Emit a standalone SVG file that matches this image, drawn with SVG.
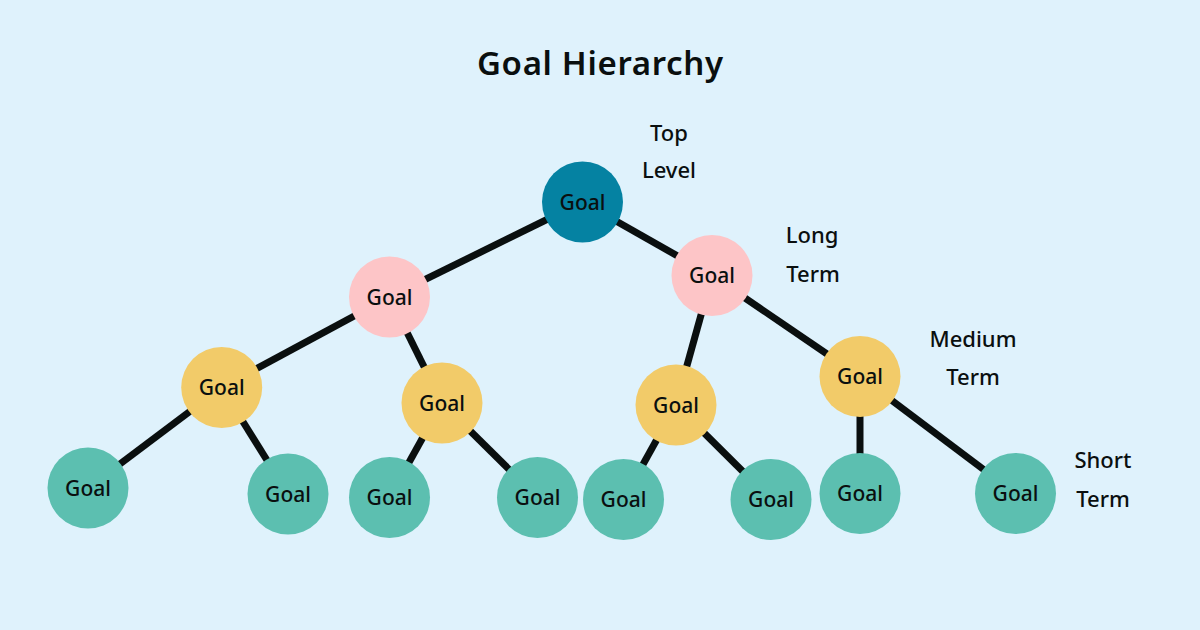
<svg xmlns="http://www.w3.org/2000/svg" width="1200" height="630" viewBox="0 0 1200 630">
<style>
.bg{fill:#dff2fc}
.edge{stroke:#0a0f0f;stroke-width:7;stroke-linecap:butt;fill:none}
.top{fill:#0582a2}
.long{fill:#fdc5c7}
.med{fill:#f2cb69}
.short{fill:#5cbfb0}
.t{font-family:"Noto Sans","Liberation Sans",sans-serif;fill:#0a0f0f;text-anchor:middle;font-weight:500}
.n{font-size:21px}
.lab{font-size:22px}
.title{font-size:33px;font-weight:600}
</style>
<rect class="bg" x="0" y="0" width="1200" height="630"/>
<text class="t title" x="600" y="75" textLength="246" lengthAdjust="spacing">Goal Hierarchy</text>
<g id="connectors">
<line class="edge" x1="582.5" y1="202" x2="389.5" y2="297"/>
<line class="edge" x1="582.5" y1="202" x2="712" y2="275.5"/>
<line class="edge" x1="389.5" y1="297" x2="221.7" y2="387.5"/>
<line class="edge" x1="389.5" y1="297" x2="442" y2="403"/>
<line class="edge" x1="712" y1="275.5" x2="676" y2="405"/>
<line class="edge" x1="712" y1="275.5" x2="860" y2="376.5"/>
<line class="edge" x1="221.7" y1="387.5" x2="88" y2="488"/>
<line class="edge" x1="221.7" y1="387.5" x2="288" y2="494"/>
<line class="edge" x1="442" y1="403" x2="389.5" y2="497.5"/>
<line class="edge" x1="442" y1="403" x2="537.5" y2="497.5"/>
<line class="edge" x1="676" y1="405" x2="623.5" y2="499.5"/>
<line class="edge" x1="676" y1="405" x2="771" y2="499.5"/>
<line class="edge" x1="860" y1="376.5" x2="860" y2="493.5"/>
<line class="edge" x1="860" y1="376.5" x2="1015.5" y2="493.5"/>
</g>
<g id="n-top"><circle class="top" cx="582.5" cy="202" r="40.5"/><text class="t n" x="582.5" y="209.5">Goal</text></g>
<g id="n-long-1"><circle class="long" cx="389.5" cy="297" r="40.5"/><text class="t n" x="389.5" y="304.5">Goal</text></g>
<g id="n-long-2"><circle class="long" cx="712" cy="275.5" r="40.5"/><text class="t n" x="712" y="283">Goal</text></g>
<g id="n-med-1"><circle class="med" cx="221.7" cy="387.5" r="40.5"/><text class="t n" x="221.7" y="395">Goal</text></g>
<g id="n-med-2"><circle class="med" cx="442" cy="403" r="40.5"/><text class="t n" x="442" y="410.5">Goal</text></g>
<g id="n-med-3"><circle class="med" cx="676" cy="405" r="40.5"/><text class="t n" x="676" y="412.5">Goal</text></g>
<g id="n-med-4"><circle class="med" cx="860" cy="376.5" r="40.5"/><text class="t n" x="860" y="384">Goal</text></g>
<g id="n-short-1"><circle class="short" cx="88" cy="488" r="40.5"/><text class="t n" x="88" y="495.5">Goal</text></g>
<g id="n-short-2"><circle class="short" cx="288" cy="494" r="40.5"/><text class="t n" x="288" y="501.5">Goal</text></g>
<g id="n-short-3"><circle class="short" cx="389.5" cy="497.5" r="40.5"/><text class="t n" x="389.5" y="505">Goal</text></g>
<g id="n-short-4"><circle class="short" cx="537.5" cy="497.5" r="40.5"/><text class="t n" x="537.5" y="505">Goal</text></g>
<g id="n-short-5"><circle class="short" cx="623.5" cy="499.5" r="40.5"/><text class="t n" x="623.5" y="507">Goal</text></g>
<g id="n-short-6"><circle class="short" cx="771" cy="499.5" r="40.5"/><text class="t n" x="771" y="507">Goal</text></g>
<g id="n-short-7"><circle class="short" cx="860" cy="493.5" r="40.5"/><text class="t n" x="860" y="501">Goal</text></g>
<g id="n-short-8"><circle class="short" cx="1015.5" cy="493.5" r="40.5"/><text class="t n" x="1015.5" y="501">Goal</text></g>
<g id="labels">
<text class="t lab" x="669" y="141">Top</text>
<text class="t lab" x="669" y="178">Level</text>
<text class="t lab" x="812" y="243">Long</text>
<text class="t lab" x="813" y="282">Term</text>
<text class="t lab" x="973" y="347">Medium</text>
<text class="t lab" x="973" y="385">Term</text>
<text class="t lab" x="1103" y="468">Short</text>
<text class="t lab" x="1103" y="507">Term</text>
</g>
</svg>
